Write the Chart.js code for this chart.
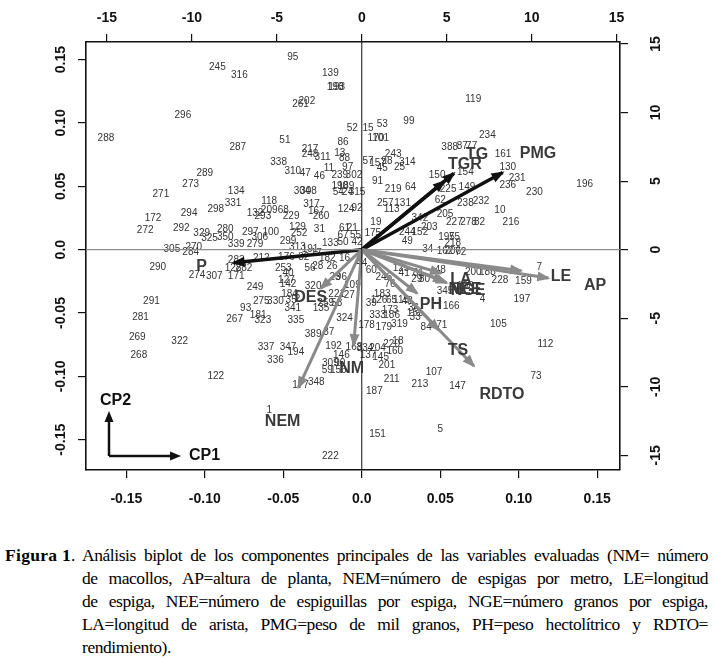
<!DOCTYPE html>
<html lang="es">
<head>
<meta charset="UTF-8">
<title>Figura 1</title>
<style>
  html, body { margin: 0; padding: 0; background: #fff; }
  .chart-wrap { position: relative; width: 716px; height: 535px; }
  .caption {
    position: absolute; top: 544px; left: 0; width: 716px;
    font-family: 'Liberation Serif', 'Times New Roman', serif;
    font-size: 17.5px; letter-spacing: -0.45px; line-height: 23px; color: #000;
  }
  .caption .fig { position: absolute; left: 5px; top: 0; letter-spacing: 0.3px; }
  .caption .txt { margin-left: 82px; width: 626px; }
  .caption .ln { display: block; text-align: justify; text-align-last: justify; }
  .caption .ln.last { text-align-last: left; }
</style>
<script src="https://cdn.jsdelivr.net/npm/chart.js"></script>
</head>
<body>
<div class="chart-wrap"><canvas id="biplot"></canvas></div>
<div class="caption">
  <span class="fig"><b>Figura 1</b>.</span>
  <div class="txt">
    <span class="ln">Análisis biplot de los componentes principales de las variables evaluadas (NM= número</span>
    <span class="ln">de macollos, AP=altura de planta, NEM=número de espigas por metro, LE=longitud</span>
    <span class="ln">de espiga, NEE=número de espiguillas por espiga, NGE=número granos por espiga,</span>
    <span class="ln">LA=longitud de arista, PMG=peso de mil granos, PH=peso hectolítrico y RDTO=</span>
    <span class="ln last">rendimiento).</span>
  </div>
</div>
<script>
// tick labels
const xTicks = [-0.15, -0.10, -0.05, 0, 0.05, 0.10, 0.15];
const yTicks = [-0.15, -0.10, -0.05, 0, 0.05, 0.10, 0.15];
const topTicks = [-15, -10, -5, 0, 5, 10, 15];
const rightTicks = [-15, -10, -5, 0, 5, 10, 15];

// observations (CP1, CP2 scores)
const obsIds = [245,316,296,288,287,289,273,95,139,198,193,202,261,52,15,53,99,51,86,170,101,217,248,311,13,88,338,243,57,157,98,314,45,25,310,47,46,11,97,239,302,91,150,154,119,234,388,87,77,161,130,231,236,196,225,149,230,62,238,232,10,205,227,278,82,216,195,75,218,162,206,72,7,48,200,188,228,159,108,345,4,197,166,105,71,271,134,331,294,298,172,132,272,292,329,325,280,350,297,306,305,270,284,339,279,290,283,128,282,274,307,171,249,291,93,281,267,181,323,304,308,190,189,54,24,315,219,64,257,131,113,118,317,167,260,124,92,209,68,293,229,31,19,342,203,244,152,129,252,100,299,61,21,67,55,133,50,42,175,49,34,313,191,17,176,32,182,212,16,253,56,28,26,40,44,60,246,76,125,41,81,29,80,127,142,320,23,96,109,221,184,2,275,330,35,341,135,259,58,27,39,126,65,183,115,43,333,186,173,155,33,36,324,335,178,179,319,84,389,37,337,347,194,336,192,146,168,334,204,220,18,160,137,145,201,309,90,59,156,177,348,187,211,213,107,1,151,222,5,112,73,147,269,322,268,122];
const obsX = [-0.092,-0.078,-0.114,-0.163,-0.079,-0.100,-0.109,-0.044,-0.020,-0.017,-0.016,-0.035,-0.039,-0.006,0.004,0.013,0.030,-0.049,-0.012,0.009,0.012,-0.033,-0.033,-0.025,-0.014,-0.011,-0.053,0.020,0.004,0.010,0.016,0.029,0.013,0.024,-0.044,-0.036,-0.027,-0.021,-0.009,-0.014,-0.005,0.010,0.048,0.066,0.071,0.080,0.056,0.064,0.070,0.090,0.093,0.099,0.093,0.142,0.055,0.067,0.110,0.050,0.066,0.076,0.088,0.053,0.059,0.068,0.075,0.095,0.054,0.059,0.058,0.053,0.058,0.063,0.113,0.050,0.071,0.080,0.088,0.103,0.066,0.053,0.077,0.102,0.057,0.087,0.051,-0.128,-0.080,-0.082,-0.110,-0.093,-0.133,-0.068,-0.138,-0.115,-0.102,-0.097,-0.087,-0.087,-0.071,-0.065,-0.121,-0.107,-0.109,-0.080,-0.068,-0.130,-0.080,-0.082,-0.075,-0.105,-0.094,-0.080,-0.068,-0.134,-0.074,-0.141,-0.081,-0.066,-0.063,-0.038,-0.034,-0.014,-0.010,-0.015,-0.009,-0.003,0.020,0.031,0.015,0.026,0.019,-0.059,-0.032,-0.029,-0.026,-0.010,-0.003,-0.059,-0.050,-0.063,-0.045,-0.027,0.009,0.037,0.043,0.029,0.037,-0.041,-0.040,-0.058,-0.047,-0.011,-0.006,-0.012,-0.004,-0.020,-0.012,-0.003,0.007,0.029,0.042,-0.041,-0.033,-0.029,-0.048,-0.037,-0.022,-0.064,-0.011,-0.050,-0.033,-0.028,-0.019,-0.047,0.000,0.006,0.014,0.018,0.025,0.027,0.036,0.035,0.040,-0.048,-0.047,-0.031,-0.017,-0.013,-0.006,-0.016,-0.046,-0.041,-0.064,-0.055,-0.045,-0.044,-0.026,-0.023,-0.016,-0.008,0.006,0.011,0.019,0.013,0.025,0.029,0.010,0.019,0.018,0.034,0.034,0.033,-0.011,-0.042,0.003,0.014,0.024,0.041,-0.031,-0.021,-0.061,-0.047,-0.042,-0.055,-0.018,-0.013,-0.005,0.002,0.010,0.019,0.023,0.021,0.004,0.012,0.016,-0.020,-0.014,-0.022,-0.015,-0.039,-0.029,0.008,0.019,0.037,0.046,-0.059,0.010,-0.020,0.050,0.117,0.111,0.061,-0.143,-0.116,-0.142,-0.093];
const obsY = [0.144,0.138,0.106,0.088,0.081,0.060,0.052,0.152,0.139,0.128,0.128,0.117,0.115,0.096,0.096,0.099,0.101,0.086,0.085,0.088,0.088,0.079,0.075,0.073,0.076,0.072,0.069,0.075,0.070,0.068,0.070,0.069,0.064,0.065,0.062,0.060,0.058,0.064,0.065,0.059,0.059,0.054,0.059,0.061,0.119,0.090,0.081,0.082,0.082,0.075,0.065,0.056,0.051,0.052,0.048,0.049,0.045,0.039,0.037,0.038,0.031,0.028,0.022,0.022,0.022,0.022,0.010,0.010,0.005,-0.001,-0.001,-0.002,-0.014,-0.016,-0.018,-0.018,-0.024,-0.025,-0.029,-0.033,-0.039,-0.039,-0.045,-0.059,-0.060,0.044,0.046,0.037,0.029,0.032,0.025,0.029,0.015,0.017,0.013,0.009,0.016,0.010,0.014,0.010,0.000,0.002,-0.002,0.004,0.004,-0.014,-0.008,-0.015,-0.015,-0.020,-0.021,-0.021,-0.030,-0.041,-0.046,-0.053,-0.055,-0.052,-0.056,0.046,0.046,0.050,0.050,0.045,0.045,0.045,0.048,0.049,0.037,0.037,0.032,0.038,0.036,0.030,0.026,0.032,0.033,0.031,0.031,0.026,0.026,0.016,0.022,0.025,0.018,0.014,0.014,0.018,0.013,0.014,0.007,0.017,0.017,0.011,0.011,0.005,0.006,0.006,0.013,0.007,0.000,0.002,0.000,-0.003,-0.006,-0.006,-0.007,-0.007,-0.007,-0.015,-0.015,-0.013,-0.013,-0.019,-0.011,-0.016,-0.022,-0.027,-0.015,-0.019,-0.019,-0.023,-0.023,-0.024,-0.027,-0.029,-0.022,-0.022,-0.028,-0.035,-0.035,-0.039,-0.041,-0.041,-0.040,-0.046,-0.046,-0.042,-0.042,-0.036,-0.042,-0.040,-0.040,-0.035,-0.040,-0.041,-0.052,-0.052,-0.048,-0.050,-0.053,-0.046,-0.054,-0.056,-0.060,-0.061,-0.059,-0.061,-0.067,-0.065,-0.077,-0.077,-0.081,-0.087,-0.076,-0.083,-0.077,-0.078,-0.078,-0.075,-0.072,-0.080,-0.083,-0.085,-0.091,-0.090,-0.090,-0.095,-0.095,-0.107,-0.105,-0.112,-0.102,-0.106,-0.097,-0.127,-0.146,-0.163,-0.142,-0.075,-0.100,-0.108,-0.069,-0.072,-0.083,-0.100];

// variables (loadings, top/right axes)
const varNames = ['LE', 'AP', 'LA', 'NEE', 'NGE', 'PH', 'TS', 'RDTO', 'NM', 'NEM', 'DES', 'TG', 'TGR', 'PMG', 'P'];
const varX = [11.73, 13.73, 5.83, 6.07, 6.25, 4.07, 5.66, 8.25, -0.6, -4.66, -3.01, 6.78, 6.07, 10.37, -9.43];
const varY = [-1.93, -2.59, -2.15, -2.88, -3.02, -3.97, -7.33, -10.6, -8.7, -12.57, -3.53, 6.96, 6.23, 7.03, -1.20];

const xRange = [-0.1757, 0.1645];
const yRange = [-0.1739, 0.1639];
const loadScale = 92.4;
const darkVars = ['TG', 'TGR', 'PMG', 'P'];

const sans = '"Liberation Sans", Arial, sans-serif';
const fmt = v => v === 0 ? '0.0' : v.toFixed(2);
const arrowStart = 3;

const datasets = [
  { data: obsIds.map((id, i) => ({ x: obsX[i], y: obsY[i] })), pointRadius: 0, xAxisID: 'x', yAxisID: 'y' },
  { data: [{ x: 0, y: yRange[0] }, { x: 0, y: yRange[1] }], showLine: true, borderColor: '#111', borderWidth: 1, pointRadius: 0, xAxisID: 'x', yAxisID: 'y' },
  { data: [{ x: xRange[0], y: 0 }, { x: xRange[1], y: 0 }], showLine: true, borderColor: '#8c8c8c', borderWidth: 1.3, pointRadius: 0, xAxisID: 'x', yAxisID: 'y' }
];
varNames.forEach((n, i) => {
  const dark = darkVars.includes(n);
  datasets.push({
    label: n,
    data: [{ x: 0, y: 0 }, { x: varX[i] * 0.8, y: varY[i] * 0.8 }],
    showLine: true, pointRadius: 0,
    borderColor: dark ? '#111' : '#8a8a8a',
    borderWidth: dark ? 3.5 : 3,
    xAxisID: 'x2', yAxisID: 'y2'
  });
});

const biplotText = {
  id: 'biplotText',
  beforeDatasetsDraw(chart) {
    const ctx = chart.ctx;
    const meta = chart.getDatasetMeta(0);
    ctx.save();
    ctx.font = '10px ' + sans;
    ctx.fillStyle = '#333';
    ctx.textAlign = 'center';
    ctx.textBaseline = 'middle';
    meta.data.forEach((el, i) => ctx.fillText(String(obsIds[i]), el.x, el.y));
    ctx.restore();
  },
  afterDatasetsDraw(chart) {
    const ctx = chart.ctx;
    const sx = chart.scales.x2, sy = chart.scales.y2;
    ctx.save();
    // arrow heads
    varNames.forEach((n, i) => {
      const ds = chart.data.datasets[arrowStart + i];
      const pts = chart.getDatasetMeta(arrowStart + i).data;
      const x0 = pts[0].x, y0 = pts[0].y, x1 = pts[1].x, y1 = pts[1].y;
      const a = Math.atan2(y1 - y0, x1 - x0);
      const len = 11, w = 5;
      ctx.fillStyle = ds.borderColor;
      ctx.beginPath();
      ctx.moveTo(x1 + Math.cos(a) * 2, y1 + Math.sin(a) * 2);
      ctx.lineTo(x1 - Math.cos(a) * len - Math.sin(a) * w, y1 - Math.sin(a) * len + Math.cos(a) * w);
      ctx.lineTo(x1 - Math.cos(a) * len + Math.sin(a) * w, y1 - Math.sin(a) * len - Math.cos(a) * w);
      ctx.closePath();
      ctx.fill();
    });
    // variable names
    ctx.font = 'bold 16px ' + sans;
    ctx.fillStyle = '#3a3a3a';
    ctx.textAlign = 'center';
    ctx.textBaseline = 'middle';
    varNames.forEach((n, i) => {
      ctx.fillText(n, sx.getPixelForValue(varX[i]), sy.getPixelForValue(varY[i]));
    });
    // CP1 / CP2 indicator
    const ca = chart.chartArea;
    const ox = ca.left + 23, oy = ca.bottom - 14;
    ctx.strokeStyle = '#111';
    ctx.fillStyle = '#111';
    ctx.lineWidth = 2.5;
    ctx.beginPath();
    ctx.moveTo(ox, oy); ctx.lineTo(ox, oy - 36);
    ctx.moveTo(ox, oy); ctx.lineTo(ox + 62, oy);
    ctx.stroke();
    ctx.beginPath();
    ctx.moveTo(ox, oy - 45); ctx.lineTo(ox - 4.5, oy - 34); ctx.lineTo(ox + 4.5, oy - 34); ctx.closePath();
    ctx.fill();
    ctx.beginPath();
    ctx.moveTo(ox + 72, oy); ctx.lineTo(ox + 61, oy - 4.5); ctx.lineTo(ox + 61, oy + 4.5); ctx.closePath();
    ctx.fill();
    ctx.font = 'bold 16px ' + sans;
    ctx.textAlign = 'left';
    ctx.fillText('CP2', ox - 9, oy - 55);
    ctx.fillText('CP1', ox + 80, oy);
    ctx.restore();
  },
  afterDraw(chart) {
    const ctx = chart.ctx;
    const ca = chart.chartArea;
    ctx.save();
    ctx.font = 'bold 14px ' + sans;
    ctx.fillStyle = '#111';
    ctx.textAlign = 'center';
    ctx.textBaseline = 'middle';
    yTicks.forEach(v => {
      const y = chart.scales.y.getPixelForValue(v);
      ctx.save();
      ctx.translate(ca.left - 25, y);
      ctx.rotate(-Math.PI / 2);
      ctx.fillText(fmt(v), 0, 0);
      ctx.restore();
    });
    rightTicks.forEach(v => {
      const y = chart.scales.y2.getPixelForValue(v);
      ctx.save();
      ctx.translate(ca.right + 36, y);
      ctx.rotate(-Math.PI / 2);
      ctx.fillText(String(v), 0, 0);
      ctx.restore();
    });
    ctx.restore();
  }
};

const gridOpts = { drawOnChartArea: false, drawTicks: true, tickLength: 8, color: '#111', lineWidth: 1.2 };
const borderOpts = { color: '#111', width: 1.6 };
const tickFont = { family: sans, size: 14, weight: 'bold' };

new Chart(document.getElementById('biplot'), {
  type: 'scatter',
  data: { datasets: datasets },
  options: {
    responsive: true,
    maintainAspectRatio: false,
    animation: false,
    layout: { padding: 0 },
    plugins: { legend: { display: false }, tooltip: { enabled: false } },
    scales: {
      x: {
        type: 'linear', position: 'bottom', min: xRange[0], max: xRange[1],
        afterBuildTicks: s => { s.ticks = xTicks.map(v => ({ value: v })); },
        afterFit: s => { s.height = 65; },
        ticks: { callback: v => fmt(v), font: tickFont, color: '#111', padding: 13, maxRotation: 0, autoSkip: false },
        grid: gridOpts, border: borderOpts
      },
      x2: {
        type: 'linear', position: 'top', min: xRange[0] * loadScale, max: xRange[1] * loadScale,
        afterBuildTicks: s => { s.ticks = topTicks.map(v => ({ value: v })); },
        afterFit: s => { s.height = 42; },
        ticks: { callback: v => String(v), font: tickFont, color: '#111', padding: 7, maxRotation: 0, autoSkip: false },
        grid: gridOpts, border: borderOpts
      },
      y: {
        type: 'linear', position: 'left', min: yRange[0], max: yRange[1],
        afterBuildTicks: s => { s.ticks = yTicks.map(v => ({ value: v })); },
        afterFit: s => { s.width = 86; },
        ticks: { display: false },
        grid: gridOpts, border: borderOpts
      },
      y2: {
        type: 'linear', position: 'right', min: yRange[0] * loadScale, max: yRange[1] * loadScale,
        afterBuildTicks: s => { s.ticks = rightTicks.map(v => ({ value: v })); },
        afterFit: s => { s.width = 96; },
        ticks: { display: false },
        grid: gridOpts, border: borderOpts
      }
    }
  },
  plugins: [biplotText]
});
</script>
</body>
</html>
